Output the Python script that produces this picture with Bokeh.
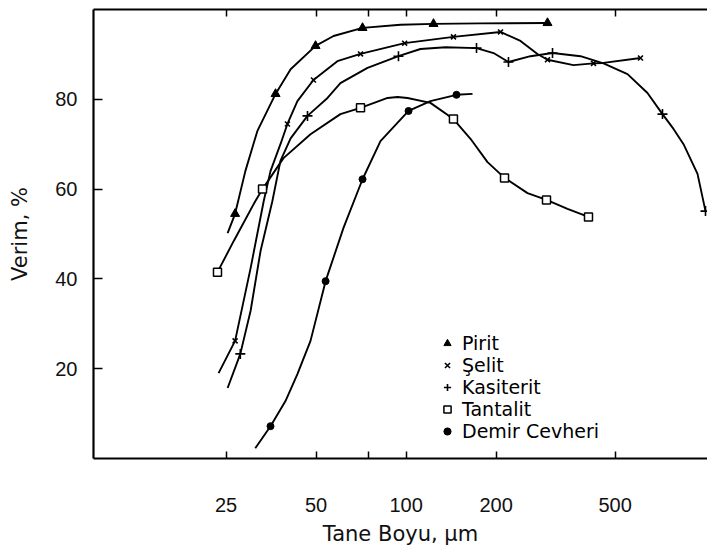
from bokeh.plotting import figure
from bokeh.models import (LogAxis, FixedTicker, NumeralTickFormatter, Legend,
                          LegendItem, Range1d)
from bokeh.embed import file_html
from bokeh.resources import INLINE

# ---------------- data ----------------
X_TICKS = [25, 50, 100, 200, 500]
X_MINOR = [75]
Y_TICKS = [20, 40, 60, 80]

# Pirit
pirit_curve_x = [25.3, 26.8, 29.0, 31.8, 36.6, 41.1, 49.8, 57.2, 71.5, 95.8, 123.5, 177.4, 297.1]
pirit_curve_y = [50.2, 54.5, 64.0, 72.9, 81.2, 86.7, 91.9, 94.1, 95.9, 96.6, 96.8, 96.9, 97.0]
pirit_pts_x = [26.8, 36.6, 49.8, 71.5, 123.5, 297.1]
pirit_pts_y = [54.5, 81.2, 91.9, 95.9, 96.8, 97.0]

# Selit
selit_curve_x = [23.6, 26.8, 30.2, 33.4, 35.2, 38.0, 40.1, 43.3, 49.0, 58.9, 70.4, 98.9,
                 144.0, 206.9, 241.3, 275.0, 297.1, 362.9, 423.4, 457.3, 608.0]
selit_curve_y = [19.0, 26.2, 42.4, 57.3, 64.0, 70.0, 74.5, 79.6, 84.3, 88.5, 90.1, 92.5,
                 93.9, 95.0, 93.0, 90.1, 88.8, 87.6, 88.0, 88.1, 89.2]
selit_pts_x = [26.8, 40.1, 49.0, 70.4, 98.9, 144.0, 206.9, 297.1, 423.4, 608.0]
selit_pts_y = [26.2, 74.5, 84.3, 90.1, 92.5, 93.9, 95.0, 88.8, 88.0, 89.2]

# Kasiterit
kas_curve_x = [25.3, 27.9, 30.2, 32.6, 35.7, 38.0, 41.1, 46.8, 54.6, 60.3, 74.3, 94.3,
               111.7, 135.5, 172.0, 196.1, 220.0, 260.6, 308.8, 383.1, 457.3, 550.3,
               641.6, 720.2, 784.0, 846.9, 943.2, 1003.0]
kas_curve_y = [15.7, 23.3, 32.9, 46.2, 57.3, 66.3, 71.3, 76.3, 80.3, 83.6, 87.0, 89.6,
               91.2, 91.6, 91.4, 90.3, 88.3, 89.6, 90.3, 89.6, 88.0, 85.6,
               81.4, 76.7, 73.4, 70.0, 63.4, 55.1]
kas_pts_x = [27.9, 46.8, 94.3, 172.0, 220.0, 308.8, 720.2, 1003.0]
kas_pts_y = [23.3, 76.3, 89.6, 91.4, 88.3, 90.3, 76.7, 55.1]

# Tantalit
tan_curve_x = [23.4, 26.5, 31.3, 33.1, 38.9, 47.9, 60.3, 70.4, 86.7, 93.6, 101.1, 120.6,
               144.0, 164.2, 187.2, 213.4, 254.7, 294.8, 346.6, 407.4]
tan_curve_y = [41.5, 48.4, 57.3, 60.0, 66.9, 72.2, 76.7, 78.1, 80.3, 80.5, 80.3, 79.2,
               75.6, 71.2, 66.0, 62.5, 59.1, 57.6, 55.6, 53.8]
tan_pts_x = [23.4, 33.1, 70.4, 144.0, 213.4, 294.8, 407.4]
tan_pts_y = [41.5, 60.0, 78.1, 75.6, 62.5, 57.6, 53.8]

# Demir Cevheri
dem_curve_x = [31.3, 35.2, 39.5, 43.3, 47.9, 53.8, 61.7, 71.5, 82.1, 101.9, 120.6, 147.4, 166.8]
dem_curve_y = [2.3, 7.2, 12.8, 18.8, 26.2, 39.5, 51.3, 62.2, 70.7, 77.4, 79.6, 81.0, 81.2]
dem_pts_x = [35.2, 53.8, 71.5, 101.9, 147.4]
dem_pts_y = [7.2, 39.5, 62.2, 77.4, 81.0]

LABELS = ["Pirit", "Şelit", "Kasiterit", "Tantalit", "Demir Cevheri"]
X_TITLE = "Tane Boyu, µm"
Y_TITLE = "Verim, %"

# ---------------- figure ----------------
p = figure(width=707, height=548, x_axis_type="log",
           x_range=Range1d(9.007, 1018.6), y_range=Range1d(0, 100),
           output_backend="svg", toolbar_location=None,
           min_border_left=93, min_border_right=0, min_border_top=9, min_border_bottom=90)
p.outline_line_color = None
p.xgrid.visible = False
p.ygrid.visible = False
p.background_fill_color = "white"

TICK_FONT = "Liberation Sans"
TEXT_FONT = "DejaVu Sans"
INK = "#111111"

xt = FixedTicker(ticks=X_TICKS, minor_ticks=X_MINOR)
xa = p.xaxis[0]
xa.ticker = xt
xa.formatter = NumeralTickFormatter(format="0")
xa.major_tick_in = 7
xa.major_tick_out = 0
xa.minor_tick_in = 7
xa.minor_tick_out = 0
xa.major_tick_line_width = 1.5
xa.minor_tick_line_width = 1.5
xa.axis_line_width = 2
xa.major_label_standoff = 39
xa.major_label_text_font = TICK_FONT
xa.major_label_text_font_size = "20px"
xa.major_label_text_color = INK
xa.axis_label = X_TITLE
xa.axis_label_standoff = 7
xa.axis_label_text_font = TEXT_FONT
xa.axis_label_text_font_size = "21px"
xa.axis_label_text_font_style = "normal"
xa.axis_label_text_color = INK

ta = LogAxis(ticker=xt, major_label_overrides={t: "" for t in X_TICKS},
             major_label_text_font_size="1px", major_label_standoff=0,
             major_tick_in=7, major_tick_out=0, minor_tick_in=7, minor_tick_out=0,
             major_tick_line_width=1.5, minor_tick_line_width=1.5, axis_line_width=2)
p.add_layout(ta, "above")

ya = p.yaxis[0]
ya.ticker = FixedTicker(ticks=Y_TICKS)
ya.major_tick_in = 9
ya.major_tick_out = 0
ya.minor_tick_in = 0
ya.minor_tick_out = 0
ya.major_tick_line_width = 1.5
ya.axis_line_width = 2.2
ya.major_label_standoff = 16
ya.major_label_text_font = TICK_FONT
ya.major_label_text_font_size = "20px"
ya.major_label_text_color = INK
ya.axis_label = Y_TITLE
ya.axis_label_standoff = 20
ya.axis_label_text_font = TEXT_FONT
ya.axis_label_text_font_size = "21px"
ya.axis_label_text_font_style = "normal"
ya.axis_label_text_color = INK

LW = 1.9
p.line(pirit_curve_x, pirit_curve_y, line_color="black", line_width=LW)
p.line(selit_curve_x, selit_curve_y, line_color="black", line_width=LW)
p.line(kas_curve_x, kas_curve_y, line_color="black", line_width=LW)
p.line(tan_curve_x, tan_curve_y, line_color="black", line_width=LW)
p.line(dem_curve_x, dem_curve_y, line_color="black", line_width=LW)

r1 = p.scatter(pirit_pts_x, pirit_pts_y, marker="triangle", size=9,
               fill_color="black", line_color="black")
r2 = p.scatter(selit_pts_x, selit_pts_y, marker="x", size=7,
               line_color="black", line_width=1.6)
r3 = p.scatter(kas_pts_x, kas_pts_y, marker="cross", size=10,
               line_color="black", line_width=1.6)
r4 = p.scatter(tan_pts_x, tan_pts_y, marker="square", size=8,
               fill_color="white", line_color="black", line_width=1.5)
r5 = p.scatter(dem_pts_x, dem_pts_y, marker="circle", size=7,
               fill_color="black", line_color="black")

legend = Legend(items=[LegendItem(label=l, renderers=[r]) for l, r in
                       zip(LABELS, [r1, r2, r3, r4, r5])],
                location=(344, 16), padding=0, margin=0, spacing=0,
                glyph_width=20, glyph_height=18, label_height=18, label_standoff=5,
                label_text_font=TEXT_FONT, label_text_font_size="19px",
                label_text_color="black", border_line_color=None,
                background_fill_alpha=0)
p.add_layout(legend)

open("out.html", "w").write(file_html(p, INLINE))
